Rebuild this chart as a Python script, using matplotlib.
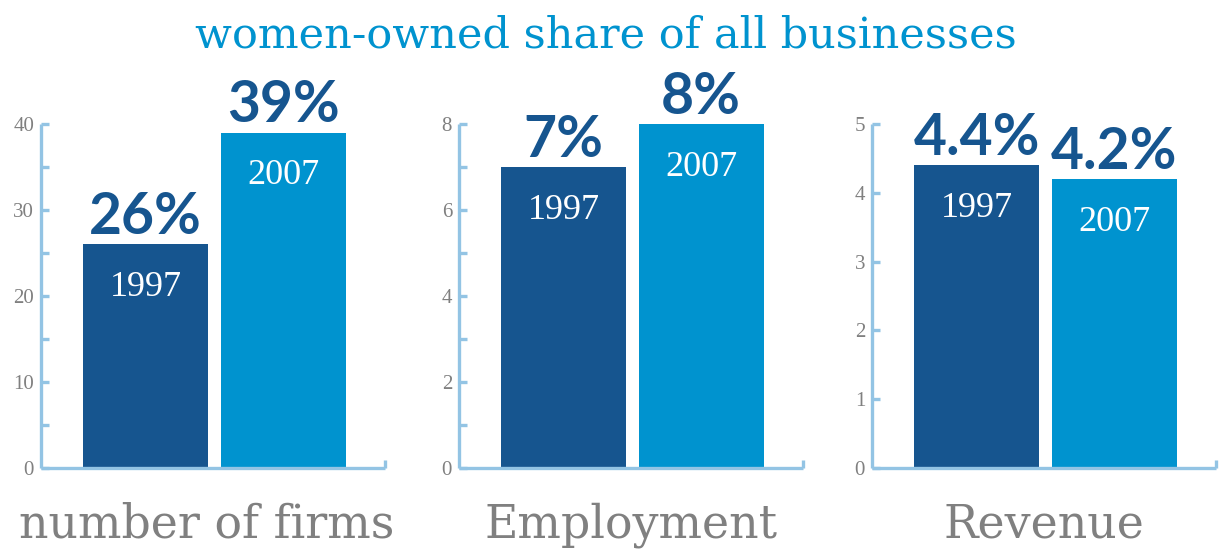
import matplotlib
matplotlib.use("Agg")
import matplotlib.pyplot as plt
from matplotlib.ticker import FixedLocator

# ---- data -------------------------------------------------------------
title = "women-owned share of all businesses"
panels = ["number of firms", "Employment", "Revenue"]
years = ["1997", "2007"]
firms = [26, 39]
employment = [7, 8]
revenue = [4.4, 4.2]
value_labels = [["26%", "39%"], ["7%", "8%"], ["4.4%", "4.2%"]]
y_max = [40, 8, 5]
y_major = [[0, 10, 20, 30, 40], [0, 2, 4, 6, 8], [0, 1, 2, 3, 4, 5]]
y_minor = [[5, 15, 25, 35], [1, 3, 5, 7], []]

# ---- style ------------------------------------------------------------
DARK = "#16558f"
LIGHT = "#0093cf"
AXIS = "#93c4e4"
GREY = "#808080"
SERIF = ["DejaVu Serif"]
TIMES = ["Liberation Serif", "DejaVu Serif"]
SANS_BOLD = ["Lato", "Open Sans", "DejaVu Sans"]

W, H = 1219, 553
fig = plt.figure(figsize=(W / 100, H / 100), dpi=100)

series = [firms, employment, revenue]
axes_left_px = [41, 459, 872]
label_center_px = [207, 631, 1044]
axes_width_px = 344
zero_px = 468      # y of the zero line, from the top
top_px = 124       # y of the top tick, from the top
XLIM = (-0.76, 1.74)

for i, vals in enumerate(series):
    left = axes_left_px[i] / W
    bottom = (H - zero_px) / H
    ax = fig.add_axes([left, bottom, axes_width_px / W, (zero_px - top_px) / H])
    ax.set_xlim(*XLIM)
    ax.set_ylim(0, y_max[i])
    bars = ax.bar([0, 1], vals, width=0.91, color=[DARK, LIGHT], zorder=1)

    for s in ("top", "right"):
        ax.spines[s].set_visible(False)
    for s in ("left", "bottom"):
        ax.spines[s].set_color(AXIS)
        ax.spines[s].set_linewidth(2.4)
        ax.spines[s].set_zorder(3)
        ax.spines[s].set_capstyle("butt")

    ax.yaxis.set_major_locator(FixedLocator(y_major[i]))
    ax.yaxis.set_minor_locator(FixedLocator(y_minor[i]))
    ax.set_yticklabels([str(v) for v in y_major[i]])
    ax.tick_params(axis="y", which="both", direction="in", length=5.5,
                   width=2.4, color=AXIS, pad=5)
    ax.tick_params(axis="y", which="major", labelsize=15, labelcolor=GREY)
    for t in ax.get_yticklabels():
        t.set_family(TIMES)

    # upturned end tick on the baseline
    ax.set_xticks([XLIM[1]])
    ax.set_xticklabels([""])
    ax.tick_params(axis="x", direction="in", length=5.5, width=2.4, color=AXIS)

    for j, (b, v) in enumerate(zip(bars, vals)):
        cx = b.get_x() + b.get_width() / 2
        ax.annotate(value_labels[i][j], (cx, v), xytext=(0, 7.5),
                    textcoords="offset points", ha="center", va="baseline",
                    fontsize=41, fontweight="bold", color=DARK,
                    family=SANS_BOLD, annotation_clip=False)
        ax.annotate(years[j], (cx, v), xytext=(0, -31),
                    textcoords="offset points", ha="center", va="center",
                    fontsize=26, color="white", family=TIMES)

    fig.text(label_center_px[i] / W, 1 - 537 / H, panels[i], ha="center",
             va="baseline", fontsize=33, color=GREY, family=SERIF)

fig.text(606 / W, 1 - 48 / H, title, ha="center", va="baseline",
         fontsize=31, color=LIGHT, family=SERIF)

fig.savefig("out.png", dpi=100, facecolor="white")
